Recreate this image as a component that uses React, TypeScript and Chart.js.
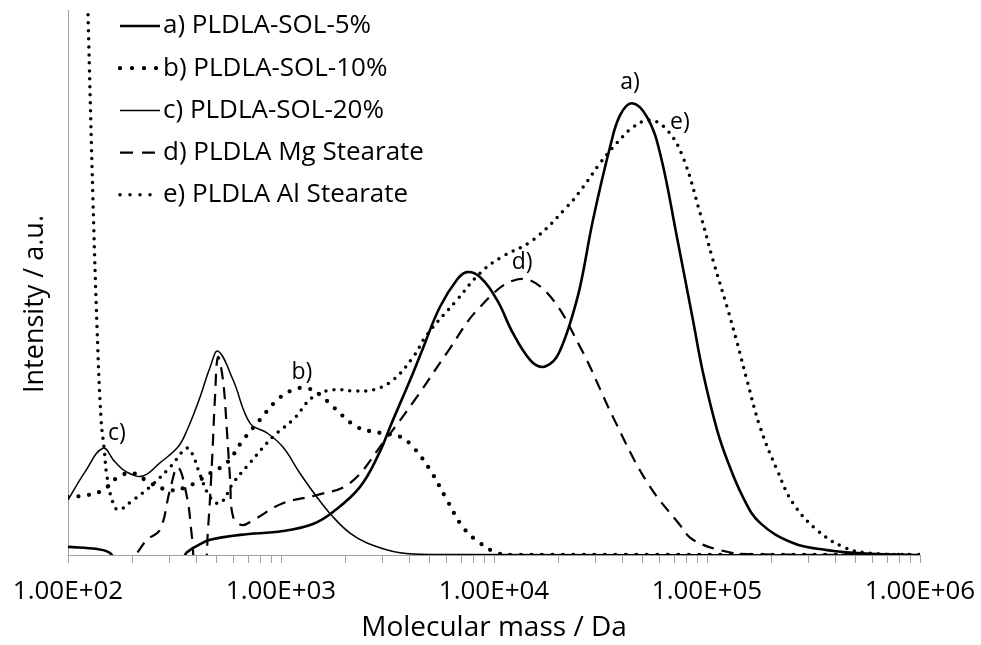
import React, { useEffect, useRef } from "react";
import { Chart, registerables } from "chart.js";

Chart.register(...registerables);

// Molecular mass distributions (GPC) of PLDLA blends, intensity in arbitrary units
const seriesNames = [
  "a) PLDLA-SOL-5%",
  "b) PLDLA-SOL-10%",
  "c) PLDLA-SOL-20%",
  "d) PLDLA Mg Stearate",
  "e) PLDLA Al Stearate",
];
const peakTags = ["a)", "b)", "c)", "d)", "e)"];
const yTitle = "Intensity / a.u.";
const xTitle = "Molecular mass / Da";

const massA = [100, 137, 157, 172, 250, 340, 362, 417, 465, 643, 1021, 1413, 1754, 2350, 2917, 3251, 4169, 4645, 5572, 6699, 7464, 8590, 10330, 12270, 14760, 16790, 18920, 20420, 22750, 25350, 29170, 35080, 39080, 44460, 52240, 60120, 72280, 85900, 95720, 111400, 124200, 147600, 177400, 253500, 365600, 582100, 1000000];
const intensityA = [1.5, 1.1, 0.4, -1.5, -3, -1, 0.5, 2.0, 2.8, 3.7, 4.4, 5.7, 7.9, 12.5, 19.0, 23.5, 33.4, 38.0, 45.5, 50.5, 51.9, 51.0, 46.8, 40.7, 35.8, 34.5, 35.5, 37.5, 42.5, 49.2, 61.5, 74.9, 80.7, 82.9, 80.4, 73.8, 58.3, 43.1, 33.5, 23.0, 17.5, 10.6, 5.9, 2.2, 0.9, 0.2, 0];

const massB = [100, 124, 146, 172, 202, 243, 301, 362, 417, 465, 557, 664, 796, 957, 1138, 1324, 1524, 1754, 2275, 2917, 3622, 4169, 5012, 6012, 7145, 8590, 10330, 12270, 1000000];
const intensityB = [10.6, 11.0, 11.9, 14.3, 15.0, 13.2, 11.9, 12.5, 13.8, 15.0, 16.9, 21.1, 24.8, 28.4, 30.3, 30.6, 29.4, 27.2, 23.5, 22.4, 21.7, 19.8, 15.6, 10.1, 5.1, 2.2, 0.4, 0, 0];

const massC = [100, 120, 146, 166, 189, 225, 270, 328, 362, 417, 465, 506, 596, 715, 859, 1021, 1227, 1476, 1754, 2109, 2535, 3622, 5572, 1000000];
const intensityC = [10.1, 15.2, 19.6, 17.1, 15.2, 14.5, 16.9, 19.8, 22.9, 29.0, 34.5, 37.4, 32.1, 24.2, 22.4, 19.8, 15.0, 10.6, 7.0, 4.0, 2.2, 0.4, 0.1, 0];

const massD = [100, 172, 207, 235, 270, 301, 328, 362, 382, 400, 435, 454, 474, 490, 506, 534, 557, 577, 596, 656, 740, 1021, 1476, 2109, 3013, 4345, 6012, 8590, 12970, 17740, 25350, 36220, 52240, 74650, 85900, 124200, 177400, 1000000];
const intensityD = [-6, -3, 0, 2.8, 4.6, 11.9, 16.1, 10.6, 3.3, -3, -3, 4.6, 16.9, 29.0, 36.3, 32.1, 22.9, 13.8, 7.0, 5.5, 6.4, 9.5, 11.0, 13.2, 20.6, 29.0, 37.1, 45.5, 50.6, 48.1, 38.2, 25.3, 13.4, 5.5, 2.8, 0.6, 0.1, 0];

const massE = [100, 124, 131, 137, 143, 148, 152, 161, 172, 202, 243, 301, 362, 386, 417, 465, 518, 596, 715, 916, 1138, 1413, 1754, 2178, 2704, 3357, 4169, 4842, 6699, 8590, 10670, 15240, 22030, 26180, 31480, 37760, 44980, 53950, 64860, 77090, 92680, 106700, 124200, 138400, 154200, 177400, 213300, 253500, 328100, 434500, 563600, 1000000];
const intensityE = [240, 100, 65.1, 41.3, 24.8, 19.3, 14.7, 10.1, 8.3, 10.1, 12.5, 16.1, 19.6, 18.3, 14.7, 10.6, 9.5, 13.2, 16.9, 21.7, 24.8, 29.0, 30.3, 30.1, 30.3, 32.1, 36.3, 40.4, 46.8, 51.7, 54.5, 57.8, 63.9, 67.5, 71.9, 75.6, 78.5, 79.8, 78.0, 73.0, 62.8, 54.1, 45.5, 39.0, 32.0, 23.5, 15.6, 9.5, 4.6, 1.5, 0.4, 0];

// mass of the peak each tag sits next to
const tagMass = [44460, 1324, 146, 12970, 53950];

// x-axis tick marks: 1..9 x 10^n, labelled at the decades
const tickDecades = [2, 3, 4, 5];
const tickSteps = [1, 2, 3, 4, 5, 6, 7, 8, 9];
const lastTick = 1000000;

const FONT = "'Open Sans', 'Noto Sans', sans-serif";

const lineLook = [
  { width: 2.6, dash: [] as number[], key: [] as number[], cap: "butt" as CanvasLineCap },
  { width: 4.3, dash: [0, 10.5], key: [0, 12], cap: "round" as CanvasLineCap },
  { width: 1.5, dash: [] as number[], key: [] as number[], cap: "butt" as CanvasLineCap },
  { width: 2.2, dash: [12, 8], key: [13, 9], cap: "butt" as CanvasLineCap },
  { width: 3.5, dash: [0, 8], key: [0, 10], cap: "round" as CanvasLineCap },
];

const tagOffsets = [
  [-2, -21],
  [-5, -16],
  [14, -15],
  [4, -17],
  [30, 2],
];

function sci(v: number): string {
  const e = Math.round(Math.log10(v));
  const m = v / Math.pow(10, e);
  const sign = e < 0 ? "-" : "+";
  return `${m.toFixed(2)}E${sign}${String(Math.abs(e)).padStart(2, "0")}`;
}

function toPoints(mass: number[], inten: number[]) {
  return mass.map((m, i) => ({ x: m, y: inten[i] }));
}

const overlayPlugin = {
  id: "legendAndTags",
  afterDatasetsDraw(chart: any) {
    const { ctx } = chart;
    const xs = chart.scales.x;
    const ys = chart.scales.y;
    ctx.save();
    ctx.fillStyle = "#000";
    ctx.textBaseline = "middle";

    // legend inside the plot, upper left
    chart.data.datasets.forEach((ds: any, i: number) => {
      const rowY = 26 + i * 42.2;
      const look = lineLook[i];
      ctx.save();
      ctx.strokeStyle = "#000";
      ctx.lineWidth = look.width;
      ctx.setLineDash(look.key);
      ctx.lineCap = look.cap;
      ctx.beginPath();
      ctx.moveTo(120, rowY);
      ctx.lineTo(160, rowY);
      ctx.stroke();
      ctx.restore();
      ctx.font = `26px ${FONT}`;
      ctx.textAlign = "left";
      ctx.fillText(ds.label, 163, rowY);
    });

    // peak tags
    const allMass = [massA, massB, massC, massD, massE];
    const allInt = [intensityA, intensityB, intensityC, intensityD, intensityE];
    ctx.font = `23px ${FONT}`;
    ctx.textAlign = "center";
    peakTags.forEach((tag, i) => {
      const idx = allMass[i].indexOf(tagMass[i]);
      const px = xs.getPixelForValue(tagMass[i]) + tagOffsets[i][0];
      const py = ys.getPixelForValue(allInt[i][idx]) + tagOffsets[i][1];
      ctx.fillText(tag, px, py);
    });

    // vertical axis title
    ctx.save();
    ctx.translate(35, 304);
    ctx.rotate(-Math.PI / 2);
    ctx.font = `27px ${FONT}`;
    ctx.textAlign = "center";
    ctx.fillText(yTitle, 0, 0);
    ctx.restore();

    ctx.restore();
  },
};

export default function App() {
  const canvasRef = useRef<HTMLCanvasElement | null>(null);

  useEffect(() => {
    const canvas = canvasRef.current;
    if (!canvas) return;

    const tickValues: number[] = [];
    tickDecades.forEach((e) => tickSteps.forEach((s) => tickValues.push(s * Math.pow(10, e))));
    tickValues.push(lastTick);

    const series = [
      toPoints(massA, intensityA),
      toPoints(massB, intensityB),
      toPoints(massC, intensityC),
      toPoints(massD, intensityD),
      toPoints(massE, intensityE),
    ];

    const chart = new Chart(canvas, {
      type: "line",
      data: {
        datasets: series.map((pts, i) => ({
          label: seriesNames[i],
          data: pts,
          borderColor: "#000",
          backgroundColor: "#000",
          borderWidth: lineLook[i].width,
          borderDash: lineLook[i].dash,
          borderCapStyle: lineLook[i].cap,
          pointRadius: 0,
          fill: false,
          tension: 0.4,
        })),
      },
      options: {
        animation: false,
        responsive: false,
        devicePixelRatio: 1,
        events: [],
        layout: { padding: { top: 10, right: 61, left: 0, bottom: 0 } },
        plugins: { legend: { display: false }, tooltip: { enabled: false } },
        scales: {
          x: {
            type: "logarithmic",
            min: 100,
            max: 1000000,
            afterBuildTicks: (scale: any) => {
              scale.ticks = tickValues.map((v) => {
                const e = Math.log10(v);
                return { value: v, major: Math.abs(e - Math.round(e)) < 1e-9 };
              });
            },
            afterFit: (scale: any) => {
              scale.height = 90;
              scale.paddingLeft = 0;
              scale.paddingRight = 0;
            },
            border: { display: true, color: "#a0a0a0", width: 1 },
            grid: { display: true, drawOnChartArea: false, drawTicks: true, tickLength: 8, color: "#a0a0a0", lineWidth: 1 },
            ticks: {
              autoSkip: false,
              maxRotation: 0,
              minRotation: 0,
              padding: 13,
              color: "#000",
              font: { family: FONT, size: 26 },
              callback: (value: any) => {
                const v = Number(value);
                const e = Math.log10(v);
                return Math.abs(e - Math.round(e)) < 1e-9 ? sci(v) : "";
              },
            },
            title: {
              display: true,
              text: xTitle,
              color: "#000",
              font: { family: FONT, size: 28 },
              padding: { top: 0, bottom: 0 },
            },
          },
          y: {
            type: "linear",
            min: 0,
            max: 100,
            afterFit: (scale: any) => {
              scale.width = 68;
            },
            border: { display: true, color: "#a0a0a0", width: 1 },
            grid: { display: false },
            ticks: { display: false },
            title: { display: false },
          },
        },
      },
      plugins: [overlayPlugin],
    } as any);

    return () => chart.destroy();
  }, []);

  return (
    <div style={{ position: "absolute", left: 0, top: 0, width: 981, height: 645, background: "#fff" }}>
      <canvas ref={canvasRef} width={981} height={645} />
    </div>
  );
}
